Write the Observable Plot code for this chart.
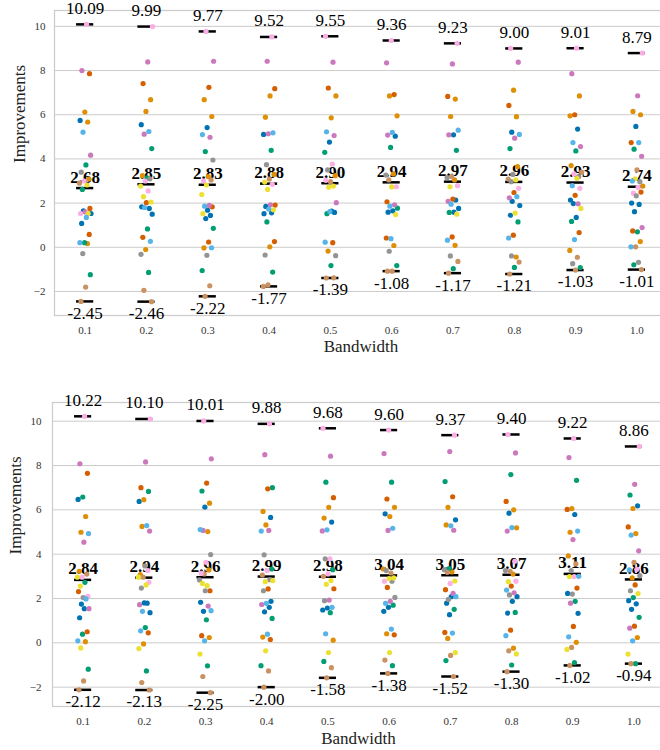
<!DOCTYPE html>
<html><head><meta charset="utf-8">
<script src="https://cdn.jsdelivr.net/npm/d3@7"></script>
<script src="https://cdn.jsdelivr.net/npm/@observablehq/plot@0.6"></script>
<style>
html,body{margin:0;padding:0;background:#fff;}
#wrap{width:660px;height:750px;overflow:hidden;position:relative;background:#fff;}
#top,#bot{position:absolute;left:0;width:660px;overflow:hidden;}
#top{top:0;height:360px;}
#bot{top:360px;height:390px;}
</style></head><body>
<div id="wrap"><div id="top"></div><div id="bot"></div></div>
<script>
// ---- categories / ticks ----
const bandwidths = ["0.1","0.2","0.3","0.4","0.5","0.6","0.7","0.8","0.9","1.0"];
const yTicks = [-2, 0, 2, 4, 6, 8, 10];
// seaborn "colorblind" palette (hue order)
const palette = ["#0173b2","#de8f05","#029e73","#d55e00","#cc78bc","#ca9161","#fbafe4","#949494","#ece133","#56b4e9"];

// ---- summary statistics (labels) ----
const topMax  = [10.09, 9.99, 9.77, 9.52, 9.55, 9.36, 9.23, 9.00, 9.01, 8.79];
const topMean = [2.68, 2.85, 2.83, 2.88, 2.90, 2.94, 2.97, 2.96, 2.93, 2.74];
const topMin  = [-2.45, -2.46, -2.22, -1.77, -1.39, -1.08, -1.17, -1.21, -1.03, -1.01];
const botMax  = [10.22, 10.10, 10.01, 9.88, 9.68, 9.60, 9.37, 9.40, 9.22, 8.86];
const botMean = [2.84, 2.94, 2.96, 2.99, 2.98, 3.04, 3.05, 3.07, 3.11, 2.86];
const botMin  = [-2.12, -2.13, -2.25, -2.00, -1.58, -1.38, -1.52, -1.30, -1.02, -0.94];

// ---- individual points: [value, hue index] per bandwidth ----
const topPoints = [
 [[10.09,6],[8.0,4],[7.86,3],[6.12,1],[5.74,0],[5.67,1],[5.21,9],[4.17,4],[3.73,2],[3.4,7],[3.09,1],[3.0,6],[2.9,5],[2.82,8],[2.62,2],[1.76,3],[1.6,4],[1.53,6],[1.53,8],[1.65,0],[1.53,0],[1.35,9],[1.08,0],[0.58,3],[0.21,2],[0.21,9],[0.17,1],[-0.29,7],[-1.24,2],[-1.8,5],[-2.45,5]],
 [[9.99,6],[8.39,4],[7.41,3],[6.68,1],[6.15,1],[5.55,0],[5.24,9],[5.12,4],[4.47,2],[3.14,2],[3.24,1],[3.1,7],[3.0,6],[2.77,8],[2.55,6],[2.29,8],[2.05,8],[2.02,3],[1.83,0],[1.76,0],[1.8,9],[1.5,0],[0.83,2],[0.45,3],[0.27,9],[-0.1,1],[-0.32,7],[-1.14,2],[-1.95,5],[-2.46,5]],
 [[9.77,6],[8.42,4],[7.24,3],[6.68,1],[5.92,1],[5.42,0],[5.1,9],[4.98,4],[4.33,2],[3.95,7],[3.2,1],[3.0,6],[3.05,5],[2.82,8],[2.39,8],[1.9,4],[1.86,9],[1.83,3],[1.68,0],[1.52,8],[1.44,0],[1.3,0],[0.86,2],[0.24,3],[-0.03,1],[-0.02,9],[-0.36,7],[-1.05,2],[-1.74,5],[-2.22,5]],
 [[9.52,6],[8.42,4],[7.18,3],[6.85,1],[5.89,1],[5.18,9],[5.14,4],[5.11,0],[4.39,2],[3.74,7],[3.3,1],[3.09,5],[2.95,8],[2.85,6],[2.62,8],[1.91,3],[1.92,4],[1.85,0],[1.7,8],[1.73,9],[1.52,0],[1.56,0],[1.15,2],[0.26,3],[0.02,1],[-0.35,7],[-1.12,2],[-1.7,5],[-1.77,5]],
 [[9.55,6],[8.38,4],[7.21,3],[6.85,1],[5.86,1],[5.23,9],[5.06,4],[4.76,0],[4.3,2],[3.77,6],[3.5,7],[3.24,1],[2.97,5],[3.03,6],[2.77,8],[2.72,8],[2.02,4],[1.64,0],[1.52,2],[1.58,0],[1.62,9],[0.23,9],[0.21,3],[-0.17,1],[-0.38,7],[-0.83,2],[-1.39,5],[-1.38,5]],
 [[9.36,6],[8.35,4],[6.91,3],[6.85,1],[5.95,1],[5.2,9],[5.08,4],[5.03,0],[4.52,2],[3.27,7],[3.32,1],[3.05,5],[2.74,6],[2.73,8],[2.06,3],[1.92,4],[1.86,9],[1.77,2],[1.65,0],[1.59,0],[1.48,8],[0.39,9],[0.42,3],[0.08,1],[-0.18,7],[-0.83,2],[-1.08,5],[-1.08,5]],
 [[9.23,6],[8.3,4],[6.83,3],[6.71,1],[5.92,1],[5.3,9],[5.09,0],[5.09,4],[4.39,2],[3.2,5],[3.15,7],[3.05,1],[2.74,8],[2.79,6],[2.18,3],[2.08,4],[2.14,0],[1.95,9],[1.76,0],[1.59,0],[1.58,2],[1.5,8],[0.47,3],[0.32,9],[0.09,1],[-0.39,7],[-0.64,5],[-0.97,2],[-1.17,5]],
 [[9.0,6],[8.38,4],[7.11,1],[6.42,3],[5.91,1],[5.21,0],[5.11,9],[4.94,4],[4.47,2],[3.65,1],[3.3,7],[3.09,5],[3.05,8],[2.97,7],[2.67,6],[2.48,3],[2.24,4],[2.29,9],[2.08,0],[1.89,0],[1.55,8],[1.45,0],[1.15,2],[0.55,3],[0.42,9],[-0.44,1],[-0.39,7],[-0.67,5],[-0.91,2],[-1.21,5]],
 [[9.01,6],[7.86,4],[6.85,1],[6.0,3],[5.95,1],[5.35,0],[4.74,9],[4.56,4],[4.36,2],[3.7,1],[3.2,7],[3.32,6],[3.4,5],[3.12,8],[2.79,9],[2.67,6],[2.35,3],[2.14,0],[1.97,4],[1.98,0],[1.76,8],[1.35,0],[1.17,2],[0.67,3],[0.35,9],[-0.14,1],[-0.45,5],[-0.74,7],[-0.92,2],[-1.03,5]],
 [[8.79,6],[6.86,4],[6.15,1],[6.0,1],[5.47,0],[4.74,3],[4.74,9],[4.44,2],[4.12,4],[3.5,5],[3.0,9],[2.97,7],[3.1,8],[2.77,1],[2.71,6],[2.45,6],[2.5,3],[2.33,7],[2.0,0],[1.94,0],[1.61,0],[0.89,4],[0.7,2],[0.74,3],[0.26,1],[0.02,5],[0.02,9],[-0.68,7],[-0.79,2],[-1.01,5]]
];
const botPoints = [
 [[10.22,6],[8.08,4],[7.65,3],[6.58,2],[6.47,0],[5.7,1],[4.99,1],[4.93,9],[4.54,4],[3.23,1],[3.1,5],[2.96,6],[2.96,8],[2.73,2],[2.56,8],[2.1,6],[2.04,7],[2.31,3],[1.98,9],[1.75,0],[1.54,4],[1.54,0],[1.13,0],[0.5,3],[0.39,2],[0.09,9],[0.05,1],[-0.23,8],[-1.19,2],[-1.72,5],[-2.12,5]],
 [[10.10,6],[8.16,4],[7.0,3],[6.83,2],[6.46,1],[6.38,0],[5.29,9],[5.25,1],[5.04,4],[3.47,7],[3.08,1],[3.26,6],[2.96,5],[2.96,8],[2.61,8],[2.47,7],[2.73,6],[1.8,0],[1.72,4],[1.79,0],[1.42,9],[1.36,0],[0.69,2],[0.54,9],[0.45,3],[-0.05,1],[-0.26,8],[-1.27,2],[-1.79,5],[-2.13,5]],
 [[10.01,6],[8.3,4],[7.21,3],[6.85,2],[6.3,1],[6.12,0],[5.11,9],[5.02,1],[5.07,4],[3.98,7],[3.63,6],[3.14,6],[3.29,1],[3.11,5],[2.84,7],[2.58,8],[2.68,8],[2.35,3],[2.35,7],[1.83,0],[1.66,4],[1.42,0],[1.45,9],[1.04,2],[0.32,3],[0.24,1],[0.09,9],[-0.51,8],[-1.04,2],[-1.52,5],[-2.25,5]],
 [[9.88,6],[8.49,4],[7.0,2],[6.95,3],[5.93,1],[5.66,0],[5.32,1],[5.04,9],[5.07,4],[3.97,7],[3.33,2],[3.26,6],[3.06,5],[2.85,7],[2.76,8],[2.81,8],[2.43,3],[2.35,7],[1.87,0],[1.78,9],[1.73,4],[1.6,0],[1.4,0],[1.1,2],[0.39,9],[0.26,1],[0.15,3],[-0.36,8],[-1.03,2],[-1.27,5],[-2.0,5]],
 [[9.68,6],[8.42,4],[7.25,2],[6.55,3],[6.11,1],[5.63,1],[5.45,0],[5.1,9],[5.05,4],[3.79,6],[3.79,7],[3.3,2],[3.11,6],[3.0,5],[2.81,8],[2.64,8],[2.44,3],[1.93,4],[1.9,7],[1.6,9],[1.57,0],[1.48,0],[1.36,2],[0.41,9],[0.12,1],[-0.44,8],[-0.84,2],[-1.12,5],[-1.58,5]],
 [[9.60,6],[8.54,4],[7.25,2],[6.49,3],[6.11,1],[5.7,1],[5.82,0],[5.17,9],[5.07,4],[3.33,1],[3.15,5],[3.26,7],[2.93,8],[2.9,8],[2.78,6],[2.78,7],[2.5,3],[2.05,7],[1.87,4],[1.78,9],[1.7,2],[1.6,0],[1.42,0],[0.62,9],[0.41,1],[0.36,3],[-0.44,8],[-0.78,5],[-1.03,2],[-1.38,5]],
 [[9.37,6],[8.63,4],[7.28,2],[6.59,3],[6.11,1],[5.55,0],[5.28,9],[5.32,1],[5.08,4],[3.35,2],[3.3,7],[3.2,1],[3.18,5],[2.79,8],[2.68,6],[2.4,3],[2.23,4],[1.96,7],[2.08,9],[2.08,0],[1.79,0],[1.51,2],[1.27,0],[0.47,3],[0.44,9],[0.2,1],[-0.44,8],[-0.57,5],[-0.8,2],[-1.52,5]],
 [[9.40,6],[8.57,4],[7.59,2],[6.38,3],[6.0,1],[5.85,0],[5.19,1],[5.2,9],[5.04,4],[3.68,6],[3.23,5],[3.26,7],[3.1,1],[2.76,8],[2.78,6],[2.56,3],[2.38,9],[2.26,4],[2.16,7],[2.08,0],[1.87,0],[1.34,0],[1.37,2],[0.57,3],[0.32,9],[-0.24,1],[-0.36,5],[-0.5,8],[-1.0,2],[-1.30,5]],
 [[9.22,6],[8.36,4],[7.33,2],[6.06,1],[6.02,3],[5.79,0],[4.99,1],[5.04,9],[4.66,4],[3.92,1],[3.56,5],[3.26,7],[3.0,9],[2.99,6],[2.99,8],[2.47,3],[2.2,7],[2.23,0],[1.87,2],[1.79,4],[1.33,0],[0.74,3],[0.27,9],[0.02,1],[-0.21,5],[-0.3,8],[-0.89,2],[-1.02,5]],
 [[8.86,6],[7.15,4],[6.67,2],[6.18,0],[6.06,1],[5.23,3],[4.93,1],[4.86,9],[4.15,4],[3.63,5],[3.29,9],[3.32,6],[2.93,1],[3.03,7],[2.61,3],[2.35,7],[2.22,8],[2.04,2],[1.9,0],[1.76,0],[1.51,0],[1.15,2],[0.75,3],[0.66,4],[0.24,1],[0.09,9],[-0.51,8],[-0.94,2],[-0.94,5]]
];

const FONT = "'Liberation Serif','Times New Roman',serif";
const fmtY = d => d < 0 ? "\u2212" + Math.abs(d) : String(d);

function makePanel(cols, maxV, meanV, minV, cfg) {
  const pts = [];
  cols.forEach((col, i) => col.forEach(([v, c], k) => pts.push({i, v, c, k})));
  pts.sort((a, b) => a.c - b.c);
  const stats = bandwidths.map((b, i) => ({i, max: maxV[i], mean: meanV[i], min: minV[i]}));
  const lo = d3.min(minV), hi = d3.max(maxV), pad = (hi - lo) * 0.05;
  // deterministic strip-plot jitter (position only)
  const jit = d => ((((d.k + 1) * 0.6180339887 + d.i * 0.37) % 1) - 0.5) * 0.2;
  const W = 668;
  const half = 0.14;
  return Plot.plot({
    width: W, height: cfg.height,
    marginLeft: cfg.left, marginRight: W - cfg.right, marginTop: cfg.top, marginBottom: cfg.bottom,
    style: `font-family:${FONT};color:#333;background:#fff;max-width:none;`,
    x: {domain: [-0.5, 9.5]},
    y: {domain: [lo - pad, hi + pad]},
    color: {type: "identity"},
    marks: [
      Plot.gridY(yTicks, {stroke: "#cccccc", strokeOpacity: 1, strokeWidth: 1}),
      Plot.frame({stroke: "#cccccc", strokeWidth: 1.25}),
      Plot.axisY(yTicks, {tickSize: 0, tickPadding: cfg.yPad, fontSize: 11, tickFormat: fmtY, label: null}),
      Plot.axisX(d3.range(10), {tickSize: 0, tickPadding: 11, fontSize: 11, tickFormat: i => bandwidths[i], label: null}),
      Plot.text(["Bandwidth"], {text: d => d, frameAnchor: "bottom", dy: cfg.xLabDy, fontSize: 17, fill: "#222"}),
      Plot.text(["Improvements"], {text: d => d, frameAnchor: "left", dx: cfg.yLabDx, rotate: -90, fontSize: 17, fill: "#222"}),
      Plot.ruleY(stats, {y: "max", x1: d => d.i - half, x2: d => d.i + half, stroke: "black", strokeWidth: 2.5}),
      Plot.ruleY(stats, {y: "mean", x1: d => d.i - half, x2: d => d.i + half, stroke: "black", strokeWidth: 2.5}),
      Plot.ruleY(stats, {y: "min", x1: d => d.i - half, x2: d => d.i + half, stroke: "black", strokeWidth: 2.5}),
      Plot.text(stats, {x: "i", y: "max", text: d => d.max.toFixed(2), dy: -16, fontSize: 17, fill: "black"}),
      Plot.text(stats, {x: "i", y: "mean", text: d => d.mean.toFixed(2), dy: -11, fontSize: 17, fontWeight: "bold", fill: "black"}),
      Plot.text(stats, {x: "i", y: "min", text: d => d.min.toFixed(2), dy: 12, fontSize: 17, fill: "black"}),
      Plot.dot(pts, {x: d => d.i + jit(d), y: "v", fill: d => palette[d.c], r: 2.6, stroke: "none"})
    ]
  });
}

document.getElementById("top").appendChild(makePanel(topPoints, topMax, topMean, topMin,
  {height: 360, top: 10, bottom: 45, left: 54, right: 667, yPad: 9, xLabDy: 36, yLabDx: -35}));
document.getElementById("bot").appendChild(makePanel(botPoints, botMax, botMean, botMin,
  {height: 390, top: 42, bottom: 44, left: 52, right: 664, yPad: 11, xLabDy: 37, yLabDx: -37}));
</script>
</body></html>
